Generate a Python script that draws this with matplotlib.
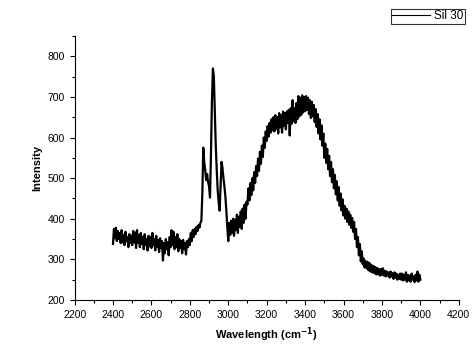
import numpy as np
import matplotlib
matplotlib.use("Agg")
import matplotlib.pyplot as plt
from matplotlib.ticker import MultipleLocator

plt.rcParams['font.family'] = ['Liberation Sans', 'DejaVu Sans']

# wavenumber grid (cm^-1), 5 cm^-1 step
wavenumber = list(range(2400, 4001, 5))

# intensity (noisy band, upper/lower edges alternate)
intensity = [
    338, 375, 352, 378, 345, 370, 350, 365, 340, 372, 342, 360, 335, 368, 345, 355, 330, 362, 340, 358,  # 2400
    335, 370, 342, 366, 328, 372, 340, 360, 330, 365, 338, 355, 325, 362, 335, 350, 322, 358, 332, 355,  # 2500
    328, 365, 335, 350, 322, 358, 330, 348, 318, 352, 328, 345, 297, 340, 315, 350, 325, 342, 310, 355,  # 2600
    330, 372, 335, 368, 325, 355, 330, 362, 320, 350, 328, 345, 315, 348, 325, 340, 312, 345, 330, 350,  # 2700
    335, 365, 345, 372, 355, 375, 362, 380, 370, 385, 378, 390, 395, 460, 575, 540, 520, 495, 510, 490,  # 2800
    480, 452, 560, 690, 770, 750, 660, 580, 520, 470, 440, 420, 480, 540, 525, 500, 480, 455, 420, 380,  # 2900
    345, 390, 360, 395, 365, 400, 358, 398, 372, 410, 365, 405, 380, 418, 375, 425, 390, 435, 400, 442,  # 3000
    435, 475, 445, 488, 458, 500, 470, 515, 488, 530, 505, 548, 518, 565, 535, 580, 552, 600, 575, 615,  # 3100
    592, 628, 602, 636, 612, 645, 618, 650, 615, 655, 622, 650, 610, 660, 625, 655, 612, 664, 628, 660,  # 3200
    620, 664, 636, 668, 605, 672, 634, 692, 640, 672, 636, 685, 645, 702, 652, 698, 656, 704, 662, 700,  # 3300
    665, 702, 668, 698, 658, 692, 648, 688, 652, 680, 638, 670, 626, 658, 610, 645, 595, 630, 580, 610,  # 3400
    550, 585, 538, 572, 522, 555, 505, 540, 490, 522, 475, 508, 460, 492, 445, 478, 432, 462, 420, 448,  # 3500
    408, 432, 400, 425, 392, 418, 385, 410, 378, 402, 368, 392, 350, 375, 330, 355, 310, 338, 295, 320,  # 3600
    288, 302, 280, 296, 278, 294, 273, 291, 270, 286, 268, 284, 266, 281, 263, 279, 263, 276, 260, 276,  # 3700
    262, 278, 260, 272, 258, 270, 260, 268, 255, 270, 258, 266, 252, 268, 255, 265, 250, 262, 252, 265,  # 3800
    250, 265, 248, 262, 250, 268, 245, 262, 248, 260, 245, 265, 250, 258, 244, 262, 248, 270, 245, 262,  # 3900
    250,                                                                                                # 4000
]

fig = plt.figure(figsize=(4.72, 3.46), dpi=100)
ax = fig.add_axes([0.158, 0.133, 0.814, 0.763])

line, = ax.plot(wavenumber, intensity, color='black', linewidth=1.6, label='Sil 30')

ax.set_xlim(2200, 4200)
ax.set_ylim(200, 850)
ax.xaxis.set_major_locator(MultipleLocator(200))
ax.xaxis.set_minor_locator(MultipleLocator(100))
ax.yaxis.set_major_locator(MultipleLocator(100))
ax.yaxis.set_minor_locator(MultipleLocator(50))
ax.set_yticks(range(200, 801, 100))

ax.spines['top'].set_visible(False)
ax.spines['right'].set_visible(False)
ax.tick_params(which='both', direction='out', labelsize=7.5, width=0.8)
ax.tick_params(which='major', length=3.5)
ax.tick_params(which='minor', length=2)

ax.set_xlabel('Wavelength (cm$^{\\mathbf{-1}}$)', fontsize=8, fontweight='bold')
ax.set_ylabel('Intensity', fontsize=8, fontweight='bold')

leg = fig.legend(handles=[line], loc='upper right', bbox_to_anchor=(0.985, 0.975),
                 fontsize=8.5, frameon=True, fancybox=False, edgecolor='black',
                 handlelength=3.2, handletextpad=0.3, borderpad=0.15,
                 borderaxespad=0)
leg.get_frame().set_linewidth(0.8)
leg.get_lines()[0].set_linewidth(0.8)

fig.savefig('out.png', dpi=100)
